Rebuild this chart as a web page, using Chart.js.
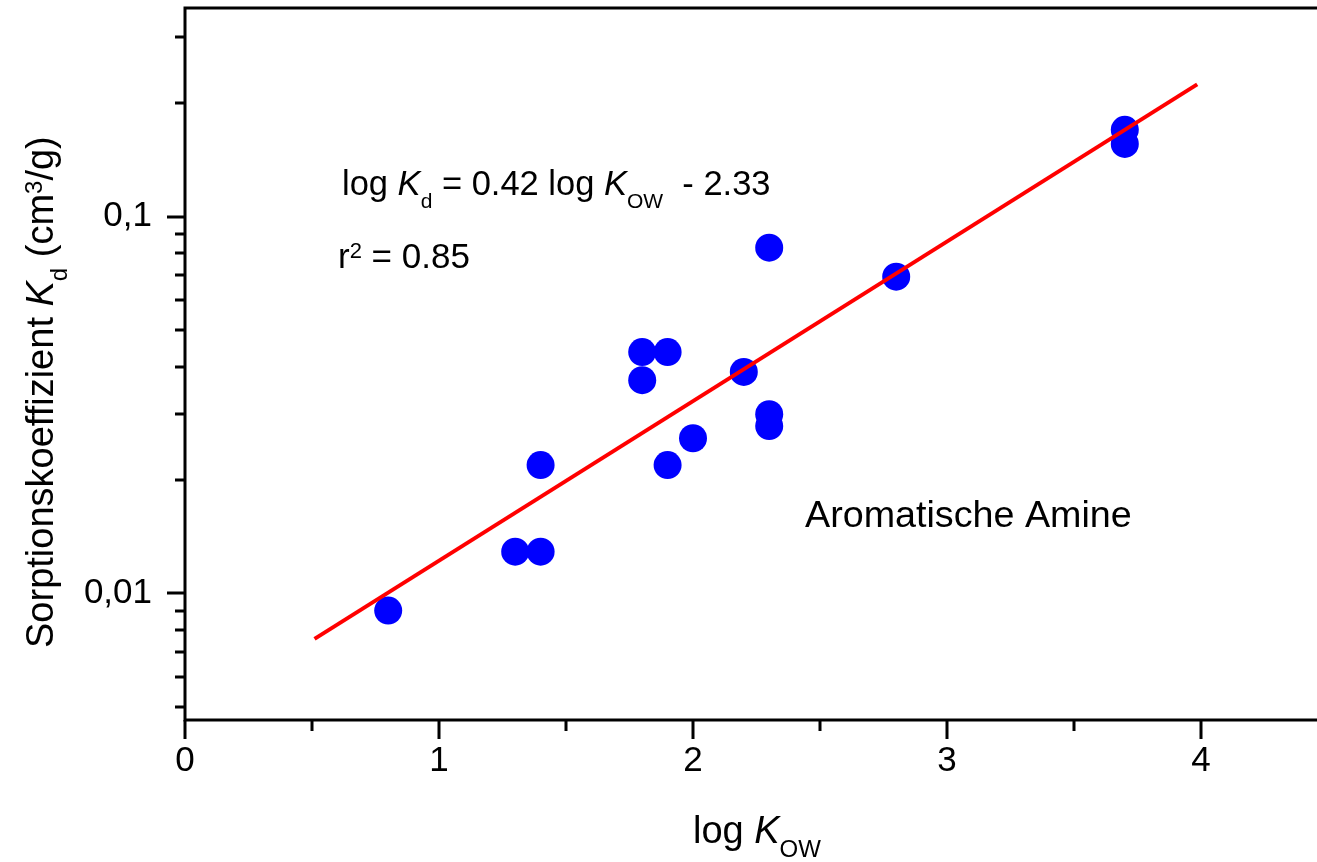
<!DOCTYPE html>
<html>
<head>
<meta charset="utf-8">
<script src="https://cdn.jsdelivr.net/npm/chart.js@4/dist/chart.umd.min.js"></script>
<style>
  html, body { margin: 0; padding: 0; background: #fff; overflow: hidden; }
  #wrap { width: 1340px; height: 862px; }
</style>
</head>
<body>
<div id="wrap"><canvas id="myChart" width="1340" height="862"></canvas></div>
<script>
// measured values (log Kow vs. Kd in cm3/g)
const logKow = [0.8, 1.3, 1.4, 1.4, 1.8, 1.8, 1.9, 1.9, 2.0, 2.2, 2.3, 2.3, 2.3, 2.8, 3.7, 3.7];
const kd = [0.0090, 0.0129, 0.0129, 0.0219, 0.0437, 0.0368, 0.0437, 0.0219, 0.0258, 0.0387, 0.0827, 0.0299, 0.0278, 0.0693, 0.170, 0.156];

// regression line end points
const fitX = [0.51, 3.985];
const fitY = [0.00757, 0.2245];

// ticks
const xTicks = [0, 0.5, 1, 1.5, 2, 2.5, 3, 3.5, 4, 4.5];
const xMajorTicks = [0, 1, 2, 3, 4];
const xTickLabels = ['0', '1', '2', '3', '4'];
const yTicks = [0.005, 0.006, 0.007, 0.008, 0.009, 0.01, 0.02, 0.03, 0.04, 0.05, 0.06, 0.07, 0.08, 0.09, 0.1, 0.2, 0.3];
const yMajorTicks = [0.01, 0.1];
const yTickLabels = ['0,01', '0,1'];

const FONT = '"Liberation Sans", Arial, sans-serif';

// draws a row of text pieces (normal / italic / sub / sup) from a baseline point
function drawRich(ctx, x, y, size, parts, angle) {
  ctx.save();
  ctx.translate(x, y);
  if (angle) ctx.rotate(angle);
  ctx.fillStyle = '#000';
  ctx.textBaseline = 'alphabetic';
  ctx.textAlign = 'left';
  let cx = 0;
  const small = Math.round(size * 0.62);
  parts.forEach(p => {
    const s = (p.sub || p.sup) ? small : size;
    ctx.font = (p.italic ? 'italic ' : '') + s + 'px ' + FONT;
    let dy = 0;
    if (p.sub) dy = size * 0.38;
    if (p.sup) dy = -size * 0.3;
    ctx.fillText(p.t, cx, dy);
    cx += ctx.measureText(p.t).width;
  });
  ctx.restore();
}

// no extra room around the scales, the plot box is fixed
function noPadding(s) {
  s.paddingTop = 0;
  s.paddingBottom = 0;
  s.paddingLeft = 0;
  s.paddingRight = 0;
}

const framePlugin = {
  id: 'frame',
  afterDraw(chart) {
    const { ctx, chartArea: a, scales } = chart;
    const x = scales.x, y = scales.y;
    ctx.save();
    ctx.strokeStyle = '#000';
    ctx.lineWidth = 3;
    ctx.strokeRect(a.left, a.top, a.right - a.left, a.bottom - a.top);

    ctx.beginPath();
    yTicks.forEach(v => {
      const py = Math.round(y.getPixelForValue(v));
      const len = yMajorTicks.includes(v) ? 18 : 10;
      ctx.moveTo(a.left - len, py);
      ctx.lineTo(a.left, py);
    });
    xTicks.forEach(v => {
      const px = Math.round(x.getPixelForValue(v));
      const len = xMajorTicks.includes(v) ? 19 : 11;
      ctx.moveTo(px, a.bottom);
      ctx.lineTo(px, a.bottom + len);
    });
    ctx.stroke();
    ctx.restore();

    // annotations
    drawRich(ctx, 342, 195, 34.5, [
      { t: 'log ' }, { t: 'K', italic: true }, { t: 'd', sub: true },
      { t: ' = 0.42 log ' }, { t: 'K', italic: true }, { t: 'OW', sub: true },
      { t: '  - 2.33' }
    ]);
    drawRich(ctx, 338, 268, 35, [{ t: 'r' }, { t: '2', sup: true }, { t: ' = 0.85' }]);
    drawRich(ctx, 805, 527, 37.7, [{ t: 'Aromatische Amine' }]);

    // axis titles
    drawRich(ctx, 693, 843, 38, [{ t: 'log ' }, { t: 'K', italic: true }, { t: 'OW', sub: true }]);
    drawRich(ctx, 53, 648, 38, [
      { t: 'Sorptionskoeffizient ' }, { t: 'K', italic: true }, { t: 'd', sub: true },
      { t: ' (cm' }, { t: '3', sup: true }, { t: '/g)' }
    ], -Math.PI / 2);
  }
};

const canvas = document.getElementById('myChart');
const myChart = new Chart(canvas.getContext('2d'), {
  type: 'scatter',
  data: {
    datasets: [
      {
        type: 'line',
        label: 'fit',
        data: fitX.map((v, i) => ({ x: v, y: fitY[i] })),
        borderColor: '#ff0000',
        borderWidth: 4,
        pointRadius: 0,
        fill: false
      },
      {
        label: 'Aromatische Amine',
        data: logKow.map((v, i) => ({ x: v, y: kd[i] })),
        backgroundColor: '#0000ff',
        borderWidth: 0,
        pointRadius: 14,
        pointHoverRadius: 14
      }
    ]
  },
  options: {
    responsive: false,
    animation: false,
    events: [],
    layout: { autoPadding: false, padding: { top: 8, right: 12, left: 0, bottom: 0 } },
    plugins: { legend: { display: false }, tooltip: { enabled: false } },
    scales: {
      x: {
        type: 'linear',
        min: 0,
        max: 4.5,
        grid: { display: false, drawTicks: false },
        border: { display: false },
        afterBuildTicks: s => { s.ticks = xTicks.map(v => ({ value: v })); },
        afterFit: s => { s.height = 142; noPadding(s); },
        ticks: {
          autoSkip: false,
          maxRotation: 0,
          padding: 20,
          color: '#000',
          font: { family: FONT, size: 35 },
          callback: v => {
            const k = xMajorTicks.indexOf(v);
            return k < 0 ? null : xTickLabels[k];
          }
        }
      },
      y: {
        type: 'logarithmic',
        min: 0.00461,
        max: 0.358,
        grid: { display: false, drawTicks: false },
        border: { display: false },
        afterBuildTicks: s => { s.ticks = yTicks.map(v => ({ value: v })); },
        afterFit: s => { s.width = 185; noPadding(s); },
        ticks: {
          autoSkip: false,
          padding: 33,
          color: '#000',
          font: { family: FONT, size: 35 },
          callback: v => {
            const k = yMajorTicks.indexOf(v);
            return k < 0 ? null : yTickLabels[k];
          }
        }
      }
    }
  },
  plugins: [framePlugin]
});
</script>
</body>
</html>
